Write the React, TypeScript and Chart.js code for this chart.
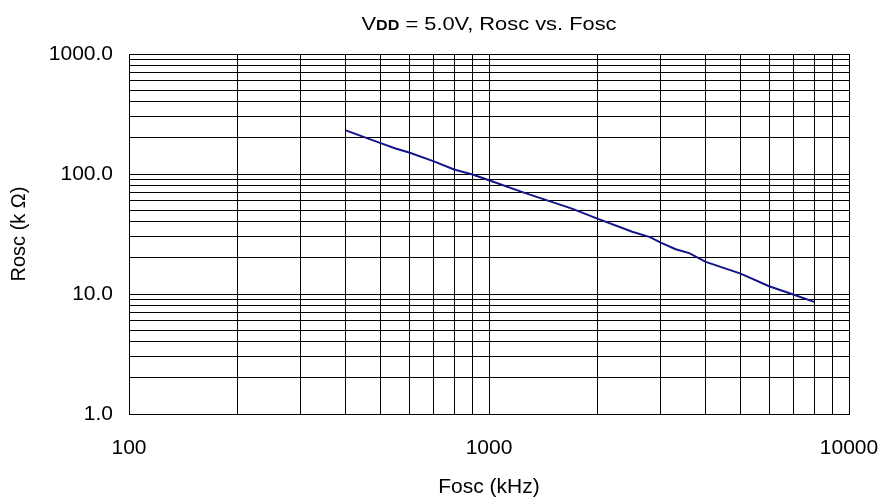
import React, { useEffect, useRef } from "react";
import { Chart, registerables } from "chart.js";

Chart.register(...registerables);

const freqKHz = [400, 500, 550, 600, 700, 800, 900, 1000, 1250, 1700, 2000, 2500, 2800, 3000, 3300, 3600, 4000, 5000, 6000, 7000, 8000];
const roscKOhm = [231, 181, 163, 151, 128, 109, 99, 88.6, 70, 51.5, 42.5, 33, 29.8, 26.8, 23.6, 21.9, 18.5, 14.8, 11.6, 9.9, 8.6];

const xDecades = [100, 1000, 10000];
const xTickLabels = ["100", "1000", "10000"];
const yDecades = [1, 10, 100, 1000];
const yTickLabels = ["1.0", "10.0", "100.0", "1000.0"];

const titleMain = "V";
const titleSub = "DD";
const titleRest = " = 5.0V, Rosc vs. Fosc";
const xTitle = "Fosc (kHz)";
const yTitle = "Rosc (k \u03A9)";

const FONT = "'Liberation Sans', Arial, sans-serif";

function gridValues(decades: number[]) {
  const vals: number[] = [];
  for (let i = 0; i < decades.length - 1; i++) {
    for (let m = 1; m <= 9; m++) vals.push(decades[i] * m);
  }
  vals.push(decades[decades.length - 1]);
  return vals;
}

const titlePlugin = {
  id: "subTitle",
  afterDraw(chart: any) {
    const ctx = chart.ctx;
    const area = chart.chartArea;
    const cx = (area.left + area.right) / 2;
    const y = 29.5;
    ctx.save();
    ctx.fillStyle = "#000";
    ctx.textBaseline = "alphabetic";
    ctx.textAlign = "left";
    const f1 = `19px ${FONT}`;
    const f2 = `bold 14px ${FONT}`;
    ctx.font = f1;
    const w1 = ctx.measureText(titleMain).width;
    const w3 = ctx.measureText(titleRest).width;
    ctx.font = f2;
    const w2 = ctx.measureText(titleSub).width;
    const total = w1 + w2 + w3;
    const targetW = 255;
    const sx = targetW / total;
    ctx.translate(cx - targetW / 2, y);
    ctx.scale(sx, 1);
    let x = 0;
    ctx.font = f1;
    ctx.fillText(titleMain, x, 0);
    x += w1;
    ctx.font = f2;
    ctx.fillText(titleSub, x, 0);
    x += w2;
    ctx.font = f1;
    ctx.fillText(titleRest, x, 0);
    ctx.restore();
  },
};

export default function App() {
  const ref = useRef<HTMLCanvasElement>(null);
  useEffect(() => {
    document.body.style.margin = "0";
    const chart = new Chart(ref.current!, {
      type: "line",
      data: {
        datasets: [
          {
            data: freqKHz.map((f, i) => ({ x: f, y: roscKOhm[i] })),
            borderColor: "#14148a",
            borderWidth: 2,
            pointRadius: 0,
            tension: 0,
            fill: false,
          },
        ],
      },
      options: {
        animation: false,
        responsive: false,
        devicePixelRatio: 1,
        layout: { padding: { top: 54, right: 36, left: 0, bottom: 0 } },
        plugins: { legend: { display: false }, tooltip: { enabled: false }, title: { display: false } },
        scales: {
          x: {
            type: "logarithmic",
            min: 100,
            max: 10000,
            afterBuildTicks: (s: any) => {
              s.ticks = gridValues(xDecades).map((v) => ({ value: v }));
            },
            afterFit: (s: any) => {
              s.height = 84;
              s.paddingLeft = 0;
              s.paddingRight = 0;
            },
            grid: { color: "#000", lineWidth: 1, drawTicks: false },
            border: { color: "#000", width: 1 },
            ticks: {
              autoSkip: false,
              maxRotation: 0,
              padding: 22,
              color: "#000",
              font: { family: FONT, size: 21 },
              callback: (v: any) => {
                const i = xDecades.indexOf(Number(v));
                return i >= 0 ? xTickLabels[i] : "";
              },
            },
            title: {
              display: true,
              text: xTitle,
              color: "#000",
              font: { family: FONT, size: 21, lineHeight: 1 },
              padding: { top: 0, bottom: 0 },
            },
          },
          y: {
            type: "logarithmic",
            min: 1,
            max: 1000,
            afterBuildTicks: (s: any) => {
              s.ticks = gridValues(yDecades).map((v) => ({ value: v }));
            },
            afterFit: (s: any) => {
              s.width = 129;
              s.paddingTop = 0;
              s.paddingBottom = 0;
            },
            grid: { color: "#000", lineWidth: 1, drawTicks: false },
            border: { color: "#000", width: 1 },
            ticks: {
              autoSkip: false,
              padding: 16,
              color: "#000",
              font: { family: FONT, size: 21 },
              callback: (v: any) => {
                const i = yDecades.indexOf(Number(v));
                return i >= 0 ? yTickLabels[i] : "";
              },
            },
            title: {
              display: true,
              text: yTitle,
              color: "#000",
              font: { family: FONT, size: 20, lineHeight: 1 },
              padding: { top: 9, bottom: 0 },
            },
          },
        },
      },
      plugins: [titlePlugin],
    });
    return () => chart.destroy();
  }, []);
  return <canvas ref={ref} width={885} height={498} style={{ display: "block" }} />;
}
